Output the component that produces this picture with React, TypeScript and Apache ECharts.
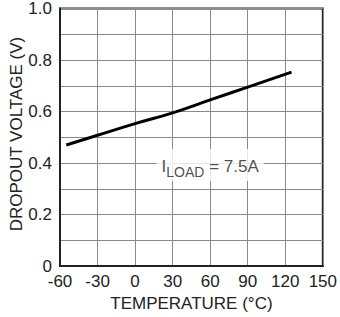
import React, { useEffect, useRef } from "react";
import * as echarts from "echarts";

const temperatures = [-55, -30, 0, 30, 60, 90, 125];
const dropoutVolts = [0.47, 0.508, 0.553, 0.595, 0.645, 0.695, 0.753];
const annotationPoint = [60, 0.4];
const xTicks = { min: -60, max: 150, interval: 30 };
const yTicks = { min: 0, max: 1.0, interval: 0.1 };

const FONT = "Liberation Sans, Arial, Helvetica, sans-serif";

export default function App() {
  const ref = useRef<HTMLDivElement>(null);
  useEffect(() => {
    if (!ref.current) return;
    const chart = echarts.init(ref.current, undefined, { renderer: "svg" });
    chart.setOption({
      animation: false,
      backgroundColor: "#fff",
      textStyle: { fontFamily: FONT },
      grid: {
        left: 60,
        right: 15,
        top: 8,
        bottom: 45,
        show: true,
        borderColor: "#222",
        borderWidth: 2,
        backgroundColor: "transparent",
      },
      xAxis: {
        type: "value",
        min: xTicks.min,
        max: xTicks.max,
        interval: xTicks.interval,
        name: "TEMPERATURE (°C)",
        nameLocation: "middle",
        nameGap: 28,
        nameTextStyle: { fontSize: 17, color: "#222", fontFamily: FONT },
        axisLine: { show: true, onZero: false, lineStyle: { color: "#222", width: 2 } },
        axisTick: { show: false },
        axisLabel: { fontSize: 17, color: "#222", margin: 7, fontFamily: FONT },
        splitLine: { show: true, lineStyle: { color: "#8a8a8a", width: 1 } },
      },
      yAxis: {
        type: "value",
        min: yTicks.min,
        max: yTicks.max,
        interval: yTicks.interval,
        axisLine: { show: true, onZero: false, lineStyle: { color: "#222", width: 2 } },
        axisTick: { show: false },
        axisLabel: {
          fontSize: 17,
          color: "#222",
          margin: 8,
          fontFamily: FONT,
          formatter: (v: number) => {
            const k = Math.round(v * 10);
            if (k % 2 !== 0) return "";
            return k === 0 ? "0" : (k / 10).toFixed(1);
          },
        },
        splitLine: { show: true, lineStyle: { color: "#8a8a8a", width: 1 } },
      },
      graphic: [
        {
          type: "text",
          x: 16,
          y: 134,
          rotation: Math.PI / 2,
          style: {
            text: "DROPOUT VOLTAGE (V)",
            fontSize: 17,
            fontFamily: FONT,
            fill: "#222",
            align: "center",
            verticalAlign: "middle",
          },
        },
      ],
      series: [
        {
          type: "line",
          data: temperatures.map((t, i) => [t, dropoutVolts[i]]),
          smooth: true,
          showSymbol: false,
          lineStyle: { color: "#000", width: 3 },
          z: 3,
        },
        {
          type: "scatter",
          data: [annotationPoint],
          symbolSize: 0,
          z: 4,
          label: {
            show: true,
            position: "inside",
            offset: [0, 2],
            backgroundColor: "#fff",
            padding: [4, 5, 2, 5],
            formatter: "{i|I}{sub|LOAD}{n| = 7.5A}",
            rich: {
              i: { fontSize: 17, color: "#222", fontFamily: FONT },
              sub: { fontSize: 14, color: "#222", fontFamily: FONT, padding: [12, 0, 0, 0] },
              n: { fontSize: 17, color: "#222", fontFamily: FONT },
            },
          },
        },
      ],
    });
    return () => chart.dispose();
  }, []);
  return <div ref={ref} style={{ width: 340, height: 317, position: "absolute", left: 0, top: 0 }} />;
}
